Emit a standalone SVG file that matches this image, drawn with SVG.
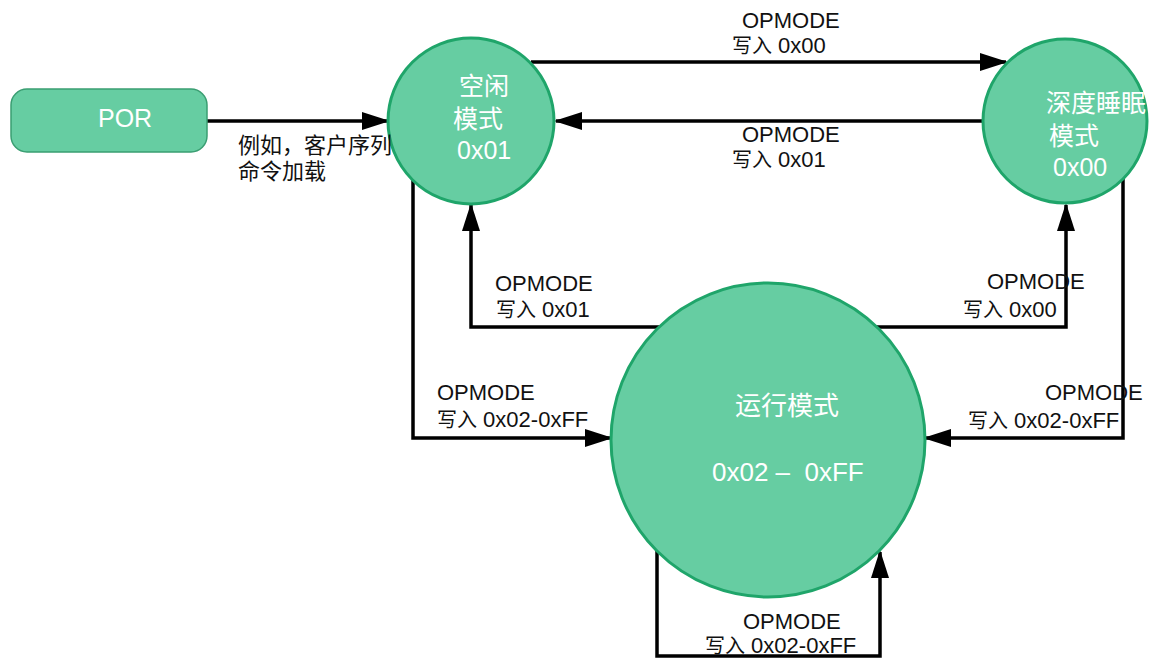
<svg xmlns="http://www.w3.org/2000/svg" width="1152" height="659" viewBox="0 0 1152 659">
<style>
.node{fill:#66CDA2;stroke:#1FA56A;stroke-width:3}
.por{fill:#66CDA2;stroke:#3A9E72;stroke-width:1.5}
.nt{fill:#ffffff;font-family:"Liberation Sans","Noto Sans CJK SC",sans-serif;font-size:25px}
.big{font-size:26px}
.lb{fill:#111111;font-family:"Liberation Sans","Noto Sans CJK SC",sans-serif;font-size:22px}
.cn{font-size:20px}
.cn2{font-size:22px}
.ln{fill:none;stroke:#000000;stroke-width:3.5;marker-end:url(#ah)}
</style>
<defs>
<marker id="ah" markerUnits="userSpaceOnUse" markerWidth="28" markerHeight="18" refX="26" refY="9" orient="auto">
<path d="M0,0 L28,9 L0,18 z" fill="#000000"/>
</marker>
</defs>
<rect width="1152" height="659" fill="#ffffff"/>
<g id="connectors">
<path class="ln" d="M207,121 H388"/>
<path class="ln" d="M531,62 H1006"/>
<path class="ln" d="M983,121 H556"/>
<path class="ln" d="M413,180 V438 H611"/>
<path class="ln" d="M660,327 H471 V205"/>
<path class="ln" d="M876,327 H1066 V205"/>
<path class="ln" d="M1123,178 V438 H925"/>
<path class="ln" d="M657,551 V656 H880 V552"/>
</g>
<g id="node-por">
<rect class="por" x="11" y="89" width="196" height="63" rx="16" ry="16"/>
<text class="nt" x="98" y="127">POR</text>
</g>
<g id="node-idle">
<circle class="node" cx="471" cy="121" r="83"/>
<text class="nt" x="459" y="95">空闲</text>
<text class="nt" x="453" y="128">模式</text>
<text class="nt" x="457" y="159">0x01</text>
</g>
<g id="node-deepsleep">
<circle class="node" cx="1065" cy="121" r="82"/>
<text class="nt" x="1046" y="112">深度睡眠</text>
<text class="nt" x="1049" y="145">模式</text>
<text class="nt" x="1053" y="176">0x00</text>
</g>
<g id="node-run">
<circle class="node" cx="768" cy="440" r="157"/>
<text class="nt big" x="735" y="415">运行模式</text>
<text class="nt big" x="712" y="481" xml:space="preserve">0x02 –  0xFF</text>
</g>
<g id="labels">
<text class="lb" x="238" y="153"><tspan class="cn2">例如，客户序列</tspan></text>
<text class="lb" x="238" y="179"><tspan class="cn2">命令加载</tspan></text>
<text class="lb" x="742" y="28">OPMODE</text>
<text class="lb" x="732" y="53"><tspan class="cn">写入</tspan> 0x00</text>
<text class="lb" x="742" y="142">OPMODE</text>
<text class="lb" x="732" y="167"><tspan class="cn">写入</tspan> 0x01</text>
<text class="lb" x="495" y="291">OPMODE</text>
<text class="lb" x="496" y="317"><tspan class="cn">写入</tspan> 0x01</text>
<text class="lb" x="987" y="289">OPMODE</text>
<text class="lb" x="963" y="317"><tspan class="cn">写入</tspan> 0x00</text>
<text class="lb" x="437" y="400">OPMODE</text>
<text class="lb" x="437" y="427"><tspan class="cn">写入</tspan> 0x02-0xFF</text>
<text class="lb" x="1045" y="400">OPMODE</text>
<text class="lb" x="968" y="428"><tspan class="cn">写入</tspan> 0x02-0xFF</text>
<text class="lb" x="743" y="629">OPMODE</text>
<text class="lb" x="705" y="653"><tspan class="cn">写入</tspan> 0x02-0xFF</text>
</g>
</svg>
